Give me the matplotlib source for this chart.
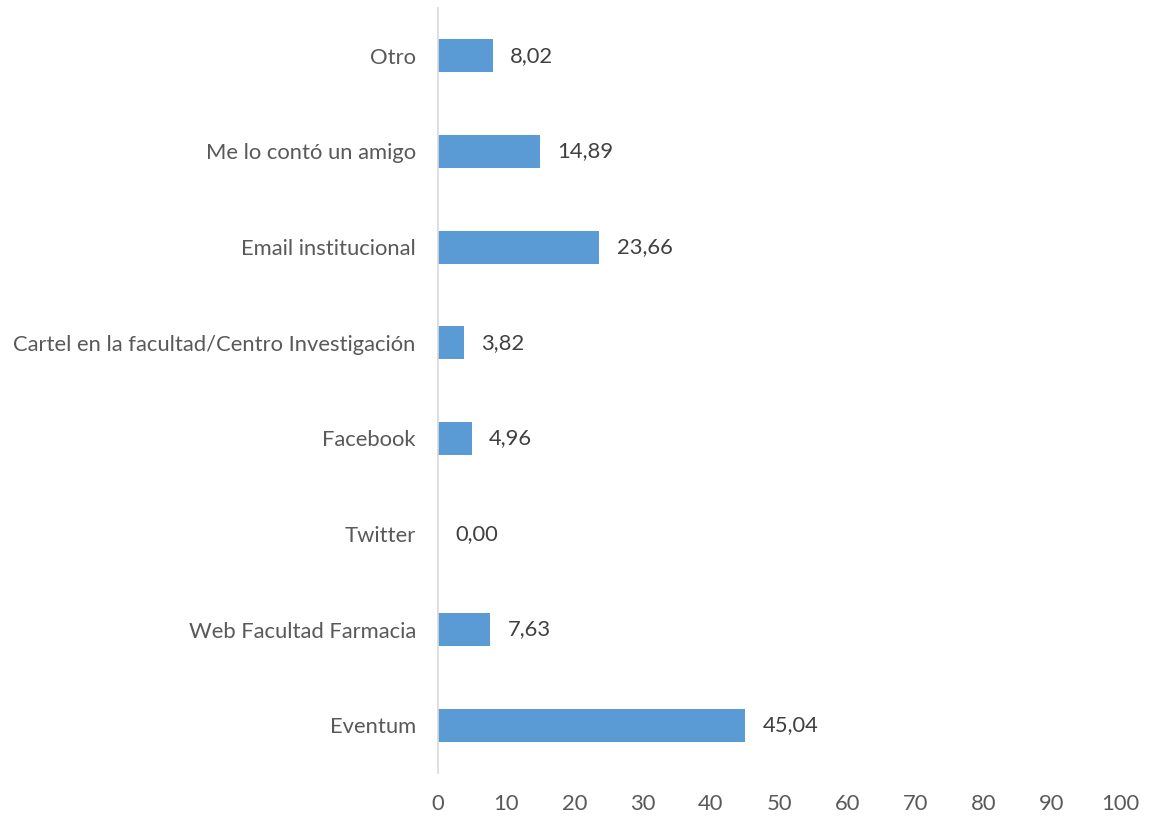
import matplotlib
matplotlib.use("Agg")
import matplotlib.pyplot as plt

categories = ["Eventum", "Web Facultad Farmacia", "Twitter", "Facebook",
              "Cartel en la facultad/Centro Investigación", "Email institucional",
              "Me lo contó un amigo", "Otro"]
values = [45.04, 7.63, 0.00, 4.96, 3.82, 23.66, 14.89, 8.02]
xticks = [0, 10, 20, 30, 40, 50, 60, 70, 80, 90, 100]

plt.rcParams['font.family'] = ['Lato', 'DejaVu Sans']
FS = 15.8

fig = plt.figure(figsize=(11.54, 8.16), dpi=100)
ax = fig.add_axes([438/1154, 1-773/816, (1120-438)/1154, (773-8)/816])

y = list(range(len(categories)))
ax.barh(y, values, height=0.345, color="#5B9BD5")
for yi, v in zip(y, values):
    ax.annotate(f"{v:.2f}".replace(".", ","), (v, yi), xytext=(12.5, 0),
                textcoords="offset points", va="center", ha="left",
                fontsize=FS, color="#404040")

ax.set_xlim(0, 100)
ax.set_ylim(-0.5, 7.5)
ax.set_yticks(y)
ax.set_yticklabels(categories, fontsize=FS, color="#595959")
ax.set_xticks(xticks)
ax.set_xticklabels([str(t) for t in xticks], fontsize=FS, color="#595959")
ax.tick_params(axis="both", length=0)
ax.tick_params(axis="y", pad=16)
ax.tick_params(axis="x", pad=15)
for s in ["top", "right", "bottom"]:
    ax.spines[s].set_visible(False)
ax.spines["left"].set_color("#D9D9D9")
ax.spines["left"].set_linewidth(1.2)

fig.savefig("out.png", dpi=100)
